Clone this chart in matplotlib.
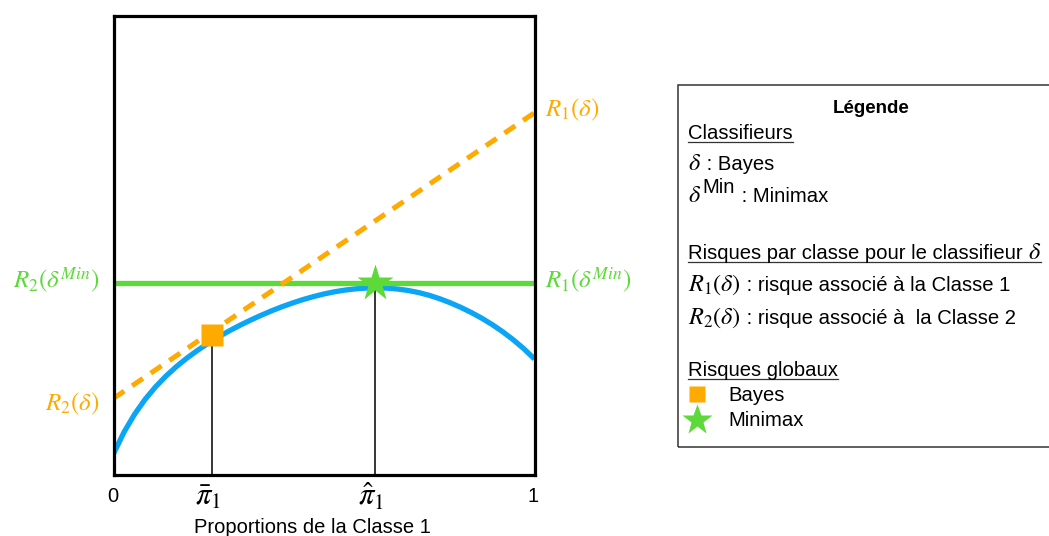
import matplotlib
matplotlib.use("Agg")
import matplotlib.pyplot as plt
from matplotlib.lines import Line2D
from matplotlib.patches import Rectangle

plt.rcParams['font.family'] = ['Liberation Sans', 'DejaVu Sans']
plt.rcParams['mathtext.fontset'] = 'stix'

# ---- data ----
global_risk_x = [0.0, 0.025, 0.05, 0.075, 0.1, 0.125, 0.15, 0.175, 0.2, 0.225,
                 0.25, 0.275, 0.3, 0.325, 0.35, 0.375, 0.4, 0.425, 0.45, 0.475,
                 0.5, 0.525, 0.55, 0.575, 0.6, 0.625, 0.65, 0.675, 0.7, 0.725,
                 0.75, 0.775, 0.8, 0.825, 0.85, 0.875, 0.9, 0.925, 0.95, 0.975, 1.0]
global_risk_y = [0.045, 0.0925, 0.1313, 0.1638, 0.1913, 0.2150, 0.2358, 0.2543, 0.2710, 0.2863,
                 0.3003, 0.3133, 0.3253, 0.3365, 0.3470, 0.3568, 0.3658, 0.3740, 0.3815, 0.3880,
                 0.3938, 0.3985, 0.4022, 0.4049, 0.4066, 0.4072, 0.4065, 0.4045, 0.4013, 0.3968,
                 0.3908, 0.3833, 0.3745, 0.3645, 0.3532, 0.3407, 0.3267, 0.3110, 0.2935, 0.2740, 0.2520]
bayes_line_x = [0.0, 1.0]
bayes_line_y = [0.166, 0.789]
minimax_level = 0.418
bayes_point = (0.235, 0.304)
minimax_point = (0.621, 0.418)
tick_pos = [0.0, 0.235, 0.621, 1.0]
tick_labels = ['0', r'$\bar{\pi}_1$', r'$\hat{\pi}_1$', '1']

ORANGE = '#FFAA00'
GREEN = '#5DD939'
BLUE = '#0AA5F5'

W, H = 1049, 536
fig = plt.figure(figsize=(W / 100, H / 100), dpi=100)


def fx(px):
    return px / W


def fy(py):
    return 1 - py / H


ax = fig.add_axes([fx(113.5), fy(474.5), (534.5 - 113.5) / W, (474.5 - 16) / H])
ax.set_xlim(0, 1)
ax.set_ylim(0, 1)
for s in ax.spines.values():
    s.set_linewidth(2.3)
    s.set_color('black')
ax.set_xticks([])
ax.set_yticks([])

ax.plot(global_risk_x, global_risk_y, color=BLUE, lw=3.8, solid_capstyle='butt',
        solid_joinstyle='round', zorder=2)
ax.plot(bayes_line_x, bayes_line_y, color=ORANGE, lw=3.6, dashes=(2.6, 1.9),
        dash_capstyle='butt', zorder=2.2)
ax.plot([0, 1], [minimax_level, minimax_level], color=GREEN, lw=3.8, zorder=2.1)

ax.plot([bayes_point[0], bayes_point[0]], [0, bayes_point[1]], color='black', lw=1.1, zorder=2.3)
ax.plot([minimax_point[0], minimax_point[0]], [0, minimax_point[1]], color='black', lw=1.1, zorder=2.3)
ax.plot([bayes_point[0]], [bayes_point[1]], marker='s', ms=16.5, color=ORANGE, mec='none', zorder=3)
ax.plot([minimax_point[0]], [minimax_point[1]], marker='*', ms=28, color=GREEN, mec='none', zorder=3)

# tick labels
for pos, lab in zip(tick_pos, tick_labels):
    if lab.startswith('$'):
        ax.annotate(lab, xy=(pos, 0), xycoords=('data', 'axes fraction'),
                    xytext=(-4, -7), textcoords='offset pixels',
                    ha='center', va='top', fontsize=22, annotation_clip=False)
    else:
        ax.annotate(lab, xy=(pos, 0), xycoords=('data', 'axes fraction'),
                    xytext=(-1, -13), textcoords='offset pixels',
                    ha='center', va='top', fontsize=14.5, annotation_clip=False)

fig.text(fx(312.5), fy(533), 'Proportions de la Classe 1', ha='center', va='baseline', fontsize=14.5)

# side labels
SIDE = 18
fig.text(fx(99), fy(288), r'$R_2(\delta^{Min})$', ha='right', va='baseline', fontsize=SIDE, color=GREEN)
fig.text(fx(99), fy(410), r'$R_2(\delta)$', ha='right', va='baseline', fontsize=SIDE, color=ORANGE)
fig.text(fx(545), fy(116), r'$R_1(\delta)$', ha='left', va='baseline', fontsize=SIDE, color=ORANGE)
fig.text(fx(545), fy(288), r'$R_1(\delta^{Min})$', ha='left', va='baseline', fontsize=SIDE, color=GREEN)

# legend box
fig.patches.append(Rectangle((fx(678), fy(447)), fx(1100) - fx(678), fy(85) - fy(447),
                             transform=fig.transFigure, fill=False, ec='#333333', lw=1.1,
                             clip_on=False))
fig.text(fx(871), fy(113), 'Légende', ha='center', va='baseline', fontsize=13.5, fontweight='bold')

LX = 688
fs = 14.6
MS = 17.5
r = fig.canvas.get_renderer()


def put(x, y, s, size, **kw):
    t = fig.text(fx(x), fy(y), s, ha='left', va='baseline', fontsize=size, **kw)
    bb = t.get_window_extent(renderer=r)
    return t, bb.x0, bb.x1


def underline(x0, x1, ybase):
    yy = H - ybase - 2.5
    fig.add_artist(Line2D([x0 / W, x1 / W], [yy / H, yy / H], color='#333333', lw=0.9,
                          transform=fig.transFigure))


t, a, b = put(LX, 139.3, 'Classifieurs', fs)
underline(a, b, 139.3)

t, a, b = put(LX, 170, r'$\delta$', MS)
put(b, 170, ' : Bayes', fs)

t, a, b = put(LX, 202, r'$\delta$', MS)
t2, a2, b2 = put(b + 1, 193, 'Min', fs)
put(b2 + 1, 202, ' : Minimax', fs)

t, a, b = put(LX, 259, 'Risques par classe pour le classifieur ', fs)
t2, a2, b2 = put(b, 259, r'$\delta$', MS)
underline(a, b2, 259)

t, a, b = put(LX, 291, r'$R_1(\delta)$', MS)
put(b, 291, ' : risque associé à la Classe 1', fs)

t, a, b = put(LX, 324, r'$R_2(\delta)$', MS)
put(b, 324, ' : risque associé à  la Classe 2', fs)

t, a, b = put(LX, 376, 'Risques globaux', fs)
underline(a, b, 376)

fig.add_artist(Line2D([fx(697)], [fy(394)], marker='s', ms=11.5, color=ORANGE, mec='none',
                      transform=fig.transFigure))
fig.add_artist(Line2D([fx(697)], [fy(420)], marker='*', ms=23, color=GREEN, mec='none',
                      transform=fig.transFigure))
put(728, 401, 'Bayes', fs)
put(728, 426, 'Minimax', fs)

fig.savefig('out.png', dpi=100)
